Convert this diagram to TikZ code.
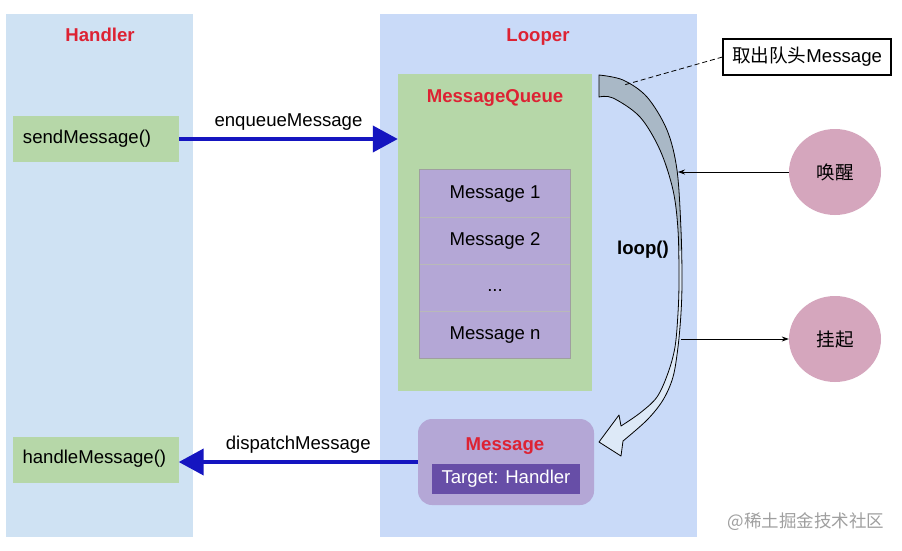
\documentclass[tikz,border=0pt]{standalone}
\usepackage{fontspec}
\setmainfont{Liberation Sans}
\newfontfamily\cjk{Noto Sans CJK SC}
\usetikzlibrary{arrows.meta,shapes.geometric}
\definecolor{handlerbg}{HTML}{CFE2F3}
\definecolor{looperbg}{HTML}{C9DAF8}
\definecolor{gboxc}{HTML}{B6D7A8}
\definecolor{purp}{HTML}{B4A7D6}
\definecolor{dpurp}{HTML}{674EA7}
\definecolor{pinkc}{HTML}{D5A6BD}
\definecolor{redt}{HTML}{DD2233}
\definecolor{bluea}{HTML}{1515C0}
\definecolor{greyband}{HTML}{A9B8C6}
\definecolor{lightband}{HTML}{DDE9F7}
\newcommand\fs{\fontsize{18.6}{21}\selectfont}
\newcommand\fsw{\fontsize{17.5}{20}\selectfont}
\begin{document}
\begin{tikzpicture}[x=1pt,y=-1pt,
  panel/.style={draw=none,inner sep=0pt},
  titletext/.style={text=redt,font=\fs\bfseries,inner sep=0pt,anchor=base},
  gbox/.style={fill=gboxc,text width=146pt,align=left,inner xsep=10pt,inner ysep=0pt,minimum height=46pt,text height=12pt,text depth=4pt,font=\fs},
  mrow/.style={fill=purp,minimum width=150pt,minimum height=47pt,inner sep=0pt,text height=13pt,text depth=4pt,font=\fs},
  bigarrow/.style={draw=bluea,line width=4pt,-{Triangle[length=25pt,width=26pt]}},
  lbl/.style={font=\fs,inner sep=0pt},
  bubble/.style={ellipse,fill=pinkc,minimum width=92pt,minimum height=86pt,inner sep=0pt,font=\fs\cjk},
  thinarrow/.style={draw=black,line width=0.8pt,-{Stealth[length=7pt,width=5pt]}},
  callout/.style={draw=black,line width=1.1pt,fill=white,minimum width=168pt,minimum height=36pt,inner sep=0pt,font=\fs}
]
\useasboundingbox (0,0) rectangle (902,550);
\fill[white] (0,0) rectangle (902,550);

% panels
\node[panel,fill=handlerbg,minimum width=187pt,minimum height=523pt] (hp) at (99.5,275.5) {};
\node[panel,fill=looperbg,minimum width=317pt,minimum height=523pt] (lp) at (538.5,275.5) {};
\node[titletext] (ht) at (100,41.5) {Handler};
\node[titletext] (lt) at (538,41.5) {Looper};

% handler boxes
\node[gbox] (send) at (96,139) {sendMessage()};
\node[gbox] (handle) at (95.5,459.5) {handleMessage()};

% message queue
\node[panel,fill=gboxc,minimum width=194pt,minimum height=317pt] (mq) at (495,232.5) {};
\node[titletext] (mqt) at (495,102.5) {MessageQueue};
\node[mrow] (m1) at (495,193.5) {Message 1};
\node[mrow] (m2) at (495,240.5) {Message 2};
\node[mrow] (m3) at (495,287.5) {\raisebox{1pt}{...}};
\node[mrow] (m4) at (495,334.5) {Message n};
\draw[gray!55,line width=0.8pt] (m1.south west) -- (m1.south east)
  (m2.south west) -- (m2.south east) (m3.south west) -- (m3.south east);
\draw[gray!75,line width=0.8pt] (m1.north west) rectangle (m4.south east);

% message
\node[fill=purp,rounded corners=14pt,minimum width=176pt,minimum height=86pt,inner sep=0pt] (msg) at (506,462) {};
\node[titletext] (msgt) at (505,450.5) {Message};
\node[fill=dpurp,text=white,minimum width=148pt,minimum height=30pt,inner sep=0pt,font=\fs] (tgt) at (506,479) {Target: Handler};

% big arrows
\draw[bigarrow] (send.east) -- node[lbl,above=7pt] (enq) {enqueueMessage} (send.east -| mq.west);
\draw[bigarrow] (msg.west) -- node[lbl,above=7pt] (disp) {dispatchMessage} (msg.west -| handle.east);

% curved loop arrow
\def\looppath{(599,75) -- plot[smooth,tension=0.55] coordinates {(599,75) (623,80) (647,97) (667,130) (677,170) (681,230) (682,280) (681,313) (678,347) (673,377) (663,400) (647,420) (623,441)}
  -- (621,456) -- (599,442) -- (619,415) -- (621,426)
  -- plot[smooth,tension=0.55] coordinates {(621,426) (640,413) (657,397) (668,373) (675,347) (678,313) (679,280) (678,230) (673,190) (660,150) (640,117) (613,98) (599,97)} -- cycle}
\fill[lightband] \looppath;
\begin{scope}
  \clip (560,0) rectangle (700,250);
  \fill[greyband] \looppath;
\end{scope}
\draw[black,line width=0.8pt,line join=round] \looppath;
\node[font=\fs\bfseries,inner sep=0pt] (loop) at (643,250) {loop()};

% callout
\node[callout] (call) at (807,57) {{\cjk 取出队头}Message};
\coordinate (head) at (624,85);
\draw[black,line width=0.8pt,dash pattern=on 5pt off 3pt] (call.west) -- (head);

% wake / hang
\node[bubble] (wake) at (835,172) {唤醒};
\node[bubble] (hang) at (835,339) {挂起};
\coordinate (wakept) at (678,172);
\coordinate (hangpt) at (681,339);
\draw[thinarrow] (wake.west) -- (wakept);
\draw[thinarrow] (hangpt) -- (hang.west);

% watermark
\node[font=\fsw\cjk,text=gray!75,inner sep=0pt] (wm) at (806,522) {@稀土掘金技术社区};
\end{tikzpicture}
\end{document}
